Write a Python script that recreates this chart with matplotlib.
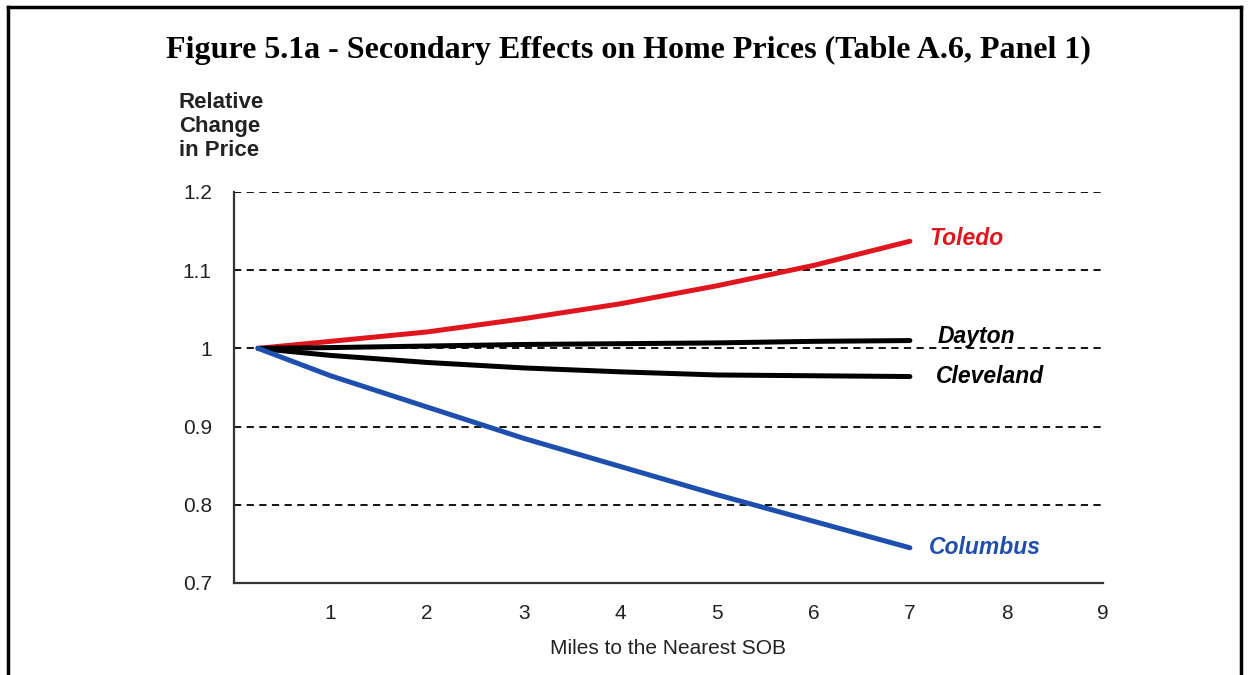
import matplotlib.pyplot as plt
from matplotlib.lines import Line2D

# miles to nearest SOB and relative price change
miles = [0.25, 1, 2, 3, 4, 5, 6, 7]
toledo = [1.0, 1.009, 1.021, 1.038, 1.057, 1.080, 1.106, 1.137]
dayton = [1.0, 1.001, 1.003, 1.005, 1.006, 1.007, 1.009, 1.010]
cleveland = [1.0, 0.991, 0.982, 0.975, 0.970, 0.966, 0.965, 0.964]
columbus = [1.0, 0.965, 0.925, 0.885, 0.849, 0.813, 0.779, 0.745]

cities = ['Toledo', 'Dayton', 'Cleveland', 'Columbus']
series = [toledo, dayton, cleveland, columbus]
colors = ['#E0161E', '#000000', '#000000', '#1F4FAE']
label_offsets = [(-2, 2), (4, 3), (3, 0), (-2, 0)]

yticks = [0.7, 0.8, 0.9, 1.0, 1.1, 1.2]
ytick_labels = ['0.7', '0.8', '0.9', '1', '1.1', '1.2']
xticks = [1, 2, 3, 4, 5, 6, 7, 8, 9]

plt.rcParams['font.family'] = ['Liberation Sans', 'DejaVu Sans']

fig = plt.figure(figsize=(12.5, 6.75), dpi=100)
ax = fig.add_axes([0.1872, 0.1363, 0.6952, 0.5793])

for yv in yticks[1:]:
    ax.axhline(yv, color='black', lw=1.3, ls=(0, (4, 3)), zorder=1)

for name, vals, col, off in zip(cities, series, colors, label_offsets):
    ax.plot(miles, vals, color=col, lw=3.6, solid_capstyle='round', zorder=3)
    ax.annotate(name, (miles[-1], vals[-1]), xytext=(16 + off[0], off[1]),
                textcoords='offset points', color=col, fontsize=16.5,
                fontstyle='italic', fontweight='bold', va='center', ha='left')

ax.set_xlim(0, 9)
ax.set_ylim(0.7, 1.2)
ax.set_xticks(xticks)
ax.set_yticks(yticks)
ax.set_yticklabels(ytick_labels)
ax.tick_params(axis='both', length=0, labelsize=15, colors='#222222')
ax.tick_params(axis='x', pad=15)
ax.tick_params(axis='y', pad=16)
for s in ['top', 'right']:
    ax.spines[s].set_visible(False)
for s in ['left', 'bottom']:
    ax.spines[s].set_color('#333333')
    ax.spines[s].set_linewidth(1.6)

fig.text(0.5344, 0.040, 'Miles to the Nearest SOB', ha='center', va='center',
         fontsize=15, color='#222222')
fig.text(0.1432, 0.864, 'Relative\nChange\nin Price', ha='left', va='top',
         fontsize=16, fontweight='bold', color='#222222', linespacing=1.2)
fig.text(0.5024, 0.925, 'Figure 5.1a - Secondary Effects on Home Prices (Table A.6, Panel 1)',
         ha='center', va='center', fontsize=23, fontweight='bold',
         family='Liberation Serif')

# page border (left, top, right)
for xs, ys in [([0.0066, 0.0066], [0, 0.9896]), ([0.0066, 0.9925], [0.9896, 0.9896]),
               ([0.9925, 0.9925], [0, 0.9896])]:
    fig.add_artist(Line2D(xs, ys, color='black', lw=2.5, transform=fig.transFigure))

fig.savefig('out.png', dpi=100)
